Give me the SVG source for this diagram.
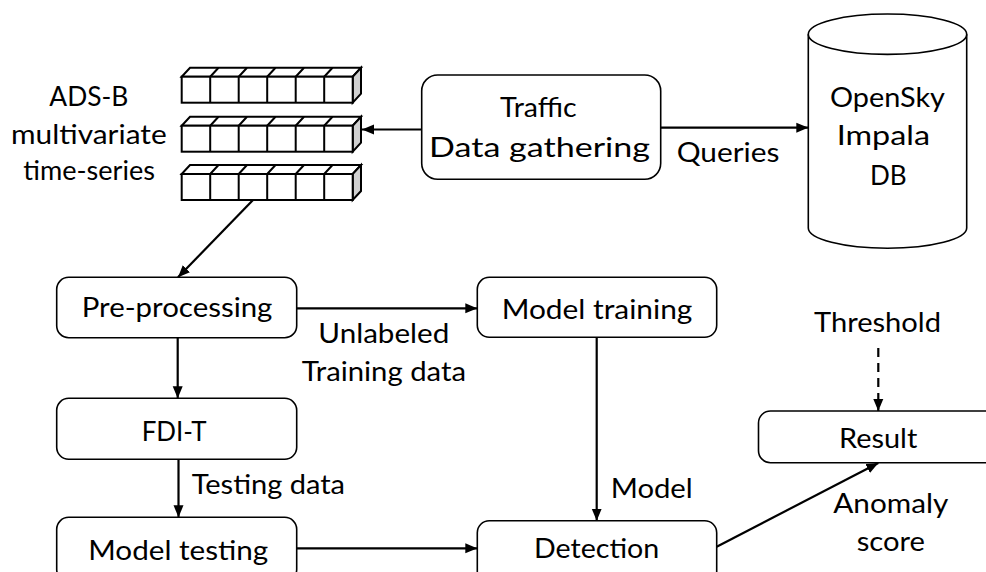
<svg xmlns="http://www.w3.org/2000/svg" width="986" height="572" viewBox="0 0 986 572">
<style>
.box{fill:#fff;stroke:#000;stroke-width:1.6}
.t{font-family:Lato,"Liberation Sans",sans-serif;font-size:26px;fill:#000}
.c{stroke:#000;stroke-width:2.2;fill:none}
.cf{fill:#fff;stroke:#000;stroke-width:2}
.cs{fill:#d0d0d0;stroke:#000;stroke-width:2}
</style>
<defs>
<marker id="ah" markerUnits="userSpaceOnUse" markerWidth="12" markerHeight="12" viewBox="0 0 12 10" refX="12" refY="5" orient="auto">
<path d="M0,0 L12,5 L0,10 z" fill="#000"/>
</marker>
<g id="cuberow">
<path class="cf" d="M181.7,0 l8.3,-9 h171 l-8.3,9 z"/>
<path class="c" style="stroke-width:2" d="M210.2,0 l8.3,-9 M238.7,0 l8.3,-9 M267.2,0 l8.3,-9 M295.7,0 l8.3,-9 M324.2,0 l8.3,-9"/>
<path class="cs" d="M352.7,0 l8.3,-9 v26 l-8.3,9 z"/>
<rect class="cf" x="181.7" y="0" width="171" height="26"/>
<path class="c" style="stroke-width:2" d="M210.2,0 v26 M238.7,0 v26 M267.2,0 v26 M295.7,0 v26 M324.2,0 v26"/>
</g>
</defs>
<rect width="986" height="572" fill="#fff"/>

<g id="timeseries">
<use href="#cuberow" y="76.7"/>
<use href="#cuberow" y="125.7"/>
<use href="#cuberow" y="174"/>
<text class="t" x="49.3" y="106" textLength="79" lengthAdjust="spacingAndGlyphs">ADS-B</text>
<text class="t" x="11" y="144" textLength="155.7" lengthAdjust="spacingAndGlyphs">multivariate</text>
<text class="t" x="23.3" y="180" textLength="131.7" lengthAdjust="spacingAndGlyphs">time-series</text>
</g>

<g id="traffic">
<rect class="box" x="421.7" y="75" width="239" height="104.3" rx="16"/>
<text class="t" x="500" y="117.3" textLength="76.7" lengthAdjust="spacingAndGlyphs">Traffic</text>
<text class="t" x="429" y="157.3" textLength="221" lengthAdjust="spacingAndGlyphs">Data gathering</text>
</g>

<g id="opensky">
<path class="box" d="M808.3,34.2 V228 A79.2,20.2 0 0 0 966.7,228 V34.2"/>
<ellipse class="box" cx="887.5" cy="34.2" rx="79.2" ry="20.2"/>
<text class="t" x="830" y="106.5" textLength="115" lengthAdjust="spacingAndGlyphs">OpenSky</text>
<text class="t" x="836.7" y="145" textLength="93.3" lengthAdjust="spacingAndGlyphs">Impala</text>
<text class="t" x="870" y="185" textLength="36.7" lengthAdjust="spacingAndGlyphs">DB</text>
</g>

<g id="preprocessing">
<rect class="box" x="56.7" y="277.3" width="240" height="60.4" rx="12"/>
<text class="t" x="81.7" y="317.3" textLength="190.7" lengthAdjust="spacingAndGlyphs">Pre-processing</text>
</g>

<g id="modeltraining">
<rect class="box" x="477.3" y="277.3" width="239.4" height="60" rx="12"/>
<text class="t" x="501.7" y="318.5" textLength="190.7" lengthAdjust="spacingAndGlyphs">Model training</text>
</g>

<g id="fdit">
<rect class="box" x="56.7" y="398.3" width="240" height="61" rx="12"/>
<text class="t" x="141.7" y="440.7" textLength="65" lengthAdjust="spacingAndGlyphs">FDI-T</text>
</g>

<g id="modeltesting">
<rect class="box" x="56.7" y="517.3" width="240" height="64" rx="12"/>
<text class="t" x="88.3" y="560" textLength="180" lengthAdjust="spacingAndGlyphs">Model testing</text>
</g>

<g id="detection">
<rect class="box" x="477.3" y="520.7" width="239.4" height="64" rx="12"/>
<text class="t" x="534" y="558.3" textLength="125.3" lengthAdjust="spacingAndGlyphs">Detection</text>
</g>

<g id="result">
<rect class="box" x="758.5" y="411" width="240" height="51.7" rx="12"/>
<text class="t" x="839" y="447.7" textLength="78.3" lengthAdjust="spacingAndGlyphs">Result</text>
</g>

<g id="threshold">
<text class="t" x="814" y="331.7" textLength="127" lengthAdjust="spacingAndGlyphs">Threshold</text>
</g>

<g id="connectors">
<line class="c" x1="421.7" y1="129.5" x2="362" y2="129.5" marker-end="url(#ah)"/>
<line class="c" x1="660.7" y1="127.7" x2="808.3" y2="127.7" marker-end="url(#ah)"/>
<line class="c" x1="253" y1="200" x2="178" y2="277.3" marker-end="url(#ah)"/>
<line class="c" x1="296.7" y1="308.3" x2="477.3" y2="308.3" marker-end="url(#ah)"/>
<line class="c" x1="177.7" y1="337.7" x2="177.7" y2="398.3" marker-end="url(#ah)"/>
<line class="c" x1="178.5" y1="459.3" x2="178.5" y2="517.3" marker-end="url(#ah)"/>
<line class="c" x1="296.7" y1="548.3" x2="477.3" y2="548.3" marker-end="url(#ah)"/>
<line class="c" x1="596.7" y1="337.3" x2="596.7" y2="520.7" marker-end="url(#ah)"/>
<line class="c" x1="716.7" y1="546.7" x2="878.3" y2="463" marker-end="url(#ah)"/>
<line class="c" x1="878.3" y1="348" x2="878.3" y2="411" stroke-dasharray="9,6" marker-end="url(#ah)"/>
<text class="t" x="676.7" y="161.5" textLength="102.7" lengthAdjust="spacingAndGlyphs">Queries</text>
<text class="t" x="318.3" y="343.3" textLength="131" lengthAdjust="spacingAndGlyphs">Unlabeled</text>
<text class="t" x="301.7" y="380.7" textLength="164.3" lengthAdjust="spacingAndGlyphs">Training data</text>
<text class="t" x="191.7" y="494" textLength="153.3" lengthAdjust="spacingAndGlyphs">Testing data</text>
<text class="t" x="610.7" y="498.3" textLength="82" lengthAdjust="spacingAndGlyphs">Model</text>
<text class="t" x="833.3" y="512.7" textLength="115" lengthAdjust="spacingAndGlyphs">Anomaly</text>
<text class="t" x="856.7" y="550.7" textLength="68.3" lengthAdjust="spacingAndGlyphs">score</text>
</g>
</svg>
